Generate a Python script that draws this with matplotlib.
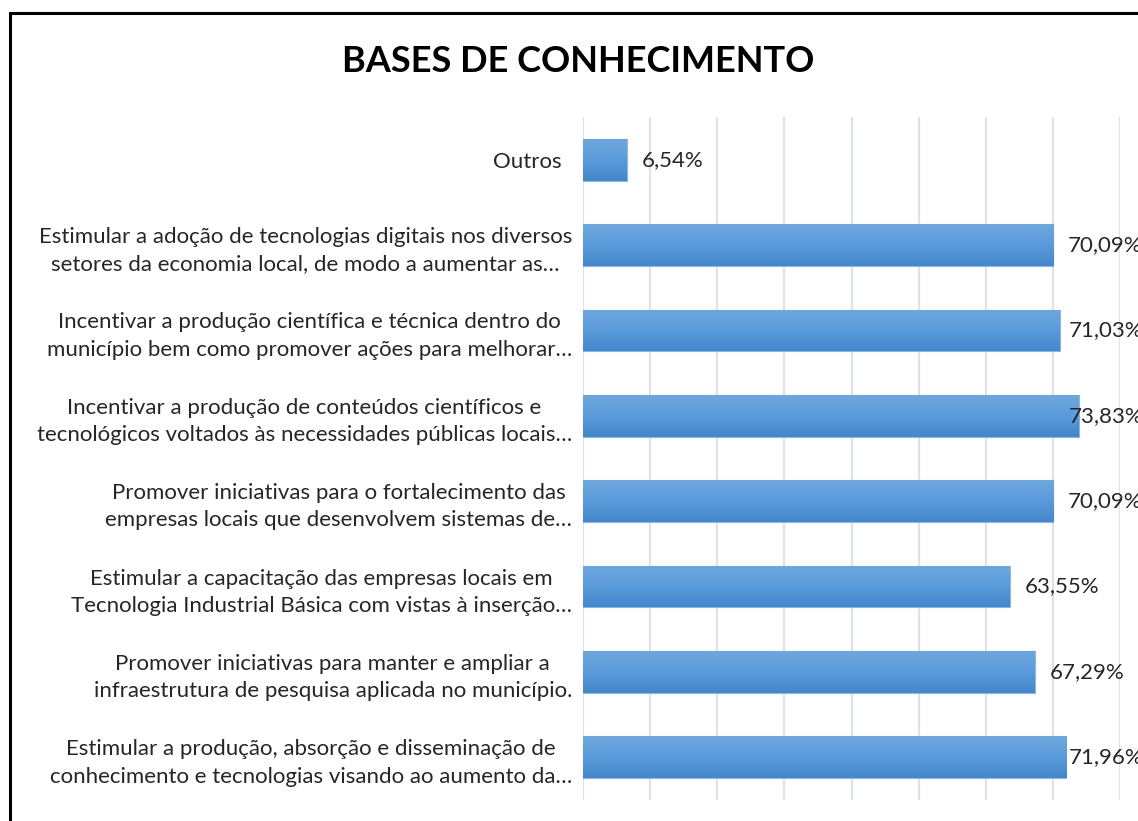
import matplotlib.pyplot as plt
import numpy as np
from matplotlib.patches import Rectangle
from matplotlib.colors import LinearSegmentedColormap

### data
categorias = [
    "Outros",
    "Estimular a adoção de tecnologias digitais nos diversos\nsetores da economia local, de modo a aumentar as…",
    "Incentivar a produção científica e técnica dentro do\nmunicípio bem como promover ações para melhorar…",
    "Incentivar a produção de conteúdos científicos e\ntecnológicos voltados às necessidades públicas locais…",
    "Promover iniciativas para o fortalecimento das\nempresas locais que desenvolvem sistemas de…",
    "Estimular a capacitação das empresas locais em\nTecnologia Industrial Básica com vistas à inserção…",
    "Promover iniciativas para manter e ampliar a\ninfraestrutura de pesquisa aplicada no município.",
    "Estimular a produção, absorção e disseminação de\nconhecimento e tecnologias visando ao aumento da…",
]
valores = [6.54, 70.09, 71.03, 73.83, 70.09, 63.55, 67.29, 71.96]
rotulos = ["6,54%", "70,09%", "71,03%", "73,83%", "70,09%", "63,55%", "67,29%", "71,96%"]
xticks = [0, 10, 20, 30, 40, 50, 60, 70, 80]

### figure
plt.rcParams['font.family'] = ['Lato', 'DejaVu Sans']
W, H = 1138, 821
fig = plt.figure(figsize=(W/100, H/100), dpi=100)
ax = fig.add_axes([583/W, 1-800/H, (1120-583)/W, (800-117)/H])

y = np.arange(len(categorias))
barras = ax.barh(y, valores, height=0.49, color='#5B9BD5', edgecolor='#8DB8E4', linewidth=0.8, zorder=2)

# degrade vertical dans chaque barre
cmap = LinearSegmentedColormap.from_list('g', ['#6FA7DD', '#5A9BDB', '#4487CA'])
grad = np.linspace(0, 1, 64).reshape(-1, 1)
for b in barras:
    x0, y0 = b.get_x(), b.get_y()
    w, h = b.get_width(), b.get_height()
    im = ax.imshow(grad, cmap=cmap, aspect='auto', extent=[x0, x0+w, y0+h, y0],
                   zorder=2.5, interpolation='bilinear')
    im.set_clip_path(b)

# etiquettes : decalees de la barre, mais bloquees au bord du graphique (comme Excel)
ecart = 2.2
limite = 72.4
for i, (v, r) in enumerate(zip(valores, rotulos)):
    ax.text(min(v + ecart, limite), i, r, va='center', ha='left', fontsize=16,
            color='#262626', zorder=3, clip_on=False)

ax.set_xlim(0, 80)
ax.set_ylim(len(categorias)-0.5, -0.5)
ax.set_xticks(xticks)
ax.set_xticklabels([])
ax.set_yticks(y)
ax.set_yticklabels(categorias, fontsize=16, color='#262626', multialignment='center',
                   linespacing=1.45)
ax.tick_params(axis='both', length=0)
ax.tick_params(axis='y', pad=8)
ax.get_yticklabels()[0].set_x(-0.02)
ax.grid(axis='x', color='#DCE3EE', linewidth=1.6, zorder=0)
ax.set_axisbelow(True)
for sp in ax.spines.values():
    sp.set_visible(False)

fig.text(578/W, 1-61/H, "BASES DE CONHECIMENTO", ha='center', va='center',
         fontsize=26, fontweight='bold', color='black')

# cadre
fig.add_artist(Rectangle((10/W, -0.1), 1.2, 1.1-13/H, transform=fig.transFigure,
                         fill=False, edgecolor='black', linewidth=2.2))

fig.savefig('out.png', dpi=100)
